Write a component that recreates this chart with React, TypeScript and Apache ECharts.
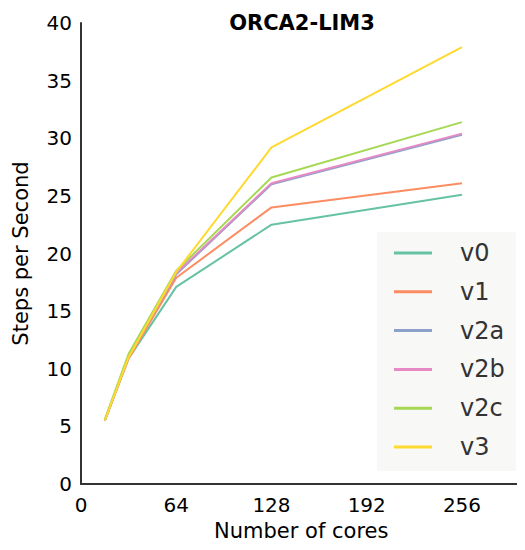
import React, { useEffect, useRef } from "react";
import * as echarts from "echarts";

const cores = [16, 32, 64, 128, 256];
const seriesNames = ["v0", "v1", "v2a", "v2b", "v2c", "v3"];
const v0 = [5.5, 10.9, 17.1, 22.5, 25.1];
const v1 = [5.5, 10.9, 17.9, 24.0, 26.1];
const v2a = [5.5, 11.1, 18.2, 26.0, 30.3];
const v2b = [5.5, 11.1, 18.3, 26.1, 30.4];
const v2c = [5.6, 11.3, 18.5, 26.6, 31.4];
const v3 = [5.5, 11.0, 18.4, 29.2, 37.9];
const seriesValues = [v0, v1, v2a, v2b, v2c, v3];
const colors = ["#66c2a5", "#fc8d62", "#8da0cb", "#e78ac3", "#a6d854", "#ffd92f"];
const xTicks = [0, 64, 128, 192, 256];

const FONT = "DejaVu Sans";

export default function App() {
  const ref = useRef<HTMLDivElement>(null);
  useEffect(() => {
    if (!ref.current) return;
    const chart = echarts.init(ref.current, undefined, { renderer: "svg" });
    chart.setOption({
      animation: false,
      backgroundColor: "#ffffff",
      title: {
        text: "ORCA2-LIM3",
        left: 297,
        textAlign: "center",
        top: 7,
        textStyle: { fontFamily: FONT, fontSize: 21, fontWeight: "bold", color: "#000" },
      },
      graphic: [
        {
          type: "rect",
          shape: { x: 377, y: 232, width: 139, height: 239 },
          style: { fill: "#f8f8f6" },
          z: 5,
        },
      ],
      legend: {
        orient: "vertical",
        left: 394 - 8,
        top: 232 + 9,
        padding: [0, 0, 0, 8],
        itemWidth: 38,
        itemHeight: 3,
        itemGap: 14.8,
        icon: "rect",
        z: 6,
        textStyle: {
          fontFamily: FONT,
          fontSize: 24,
          color: "#333",
          padding: [0, 0, 0, 23],
          lineHeight: 24,
        },
        data: seriesNames,
      },
      grid: { left: 81, top: 23, bottom: 66, right: 3.5, containLabel: false },
      xAxis: {
        type: "value",
        min: 0,
        max: 296,
        interval: 64,
        name: "Number of cores",
        nameLocation: "middle",
        nameGap: 36,
        nameTextStyle: { fontFamily: FONT, fontSize: 21, color: "#000" },
        axisLine: { show: true, lineStyle: { color: "#333", width: 2 } },
        axisTick: { show: false },
        splitLine: { show: false },
        axisLabel: {
          fontFamily: FONT,
          fontSize: 20,
          color: "#000",
          margin: 11,
          formatter: (v: number) => (xTicks.includes(v) ? String(v) : ""),
        },
      },
      yAxis: {
        type: "value",
        min: 0,
        max: 40,
        interval: 5,
        name: "Steps per Second",
        nameLocation: "middle",
        nameGap: 50,
        nameTextStyle: { fontFamily: FONT, fontSize: 21, color: "#000" },
        axisLine: { show: true, lineStyle: { color: "#333", width: 2 } },
        axisTick: { show: false },
        splitLine: { show: false },
        axisLabel: { fontFamily: FONT, fontSize: 20, color: "#000", margin: 9 },
      },
      series: seriesNames.map((name, i) => ({
        name,
        type: "line",
        data: cores.map((c, j) => [c, seriesValues[i][j]]),
        symbol: "none",
        showSymbol: false,
        color: colors[i],
        lineStyle: { width: 2, color: colors[i] },
      })),
    });
    return () => chart.dispose();
  }, []);
  return <div ref={ref} style={{ width: 525, height: 550, margin: -8 }} />;
}
